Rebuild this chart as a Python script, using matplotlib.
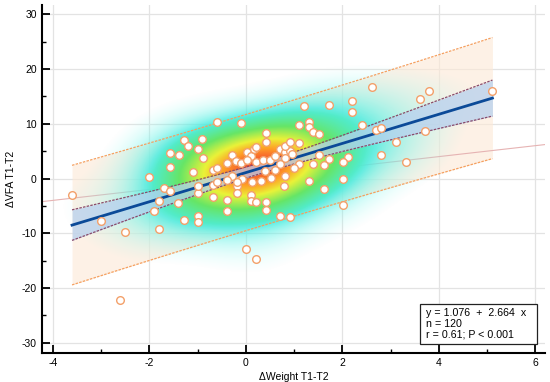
import numpy as np
import matplotlib
matplotlib.use("Agg")
import matplotlib.pyplot as plt
from matplotlib.colors import LinearSegmentedColormap
from matplotlib.patches import Rectangle

# ---------------- data ----------------
dweight = [-3.60, -3.00, -2.50, -2.60, -2.00, -1.90, -1.79, -1.79, -1.70, -1.58,
           -1.40, -1.29, -0.99, -0.99, -0.99, -0.99, -1.29, -1.19, -1.58, -1.39,
           -1.58, -1.10, -0.99, -0.90, -0.89, -0.68, -0.59, -0.68, -0.59, -0.68,
           -0.38, -0.38, -0.39, -0.59, -0.09, -0.29, -0.20, -0.09, 0.02, 0.11,
           0.02, 0.17, 0.21, 0.36, 0.50, 0.41, 0.41, 0.21, 0.61, 0.71,
           0.81, 0.92, 0.81, 0.96, 0.81, 0.71, 1.10, 1.00, 0.61, 0.40,
           0.52, 0.32, 0.12, -0.08, -0.29, -0.39, -0.19, 0.80, 1.31, 0.81,
           0.11, 0.11, 0.21, 0.41, 0.41, -0.19, 0.00, 0.21, 0.71, 0.91,
           0.92, 1.10, 1.21, 1.10, 1.30, 1.30, 1.40, 1.51, 1.72, 2.21,
           2.21, 2.41, 2.70, 2.81, 3.12, 2.61, 3.60, 3.80, 5.11, 3.71,
           1.52, 1.72, 2.11, 2.02, 2.80, 3.31, 1.40, 1.61, 2.02, 1.61,
           2.02, -0.19]
dvfa = [-3.0, -7.7, -9.7, -22.2, 0.3, -6.0, -4.2, -9.2, -1.7, -2.3,
        -4.5, -7.6, -6.8, -7.9, -2.6, -1.4, 7.1, 5.85, 4.6, 4.3,
        2.1, 1.1, 5.3, 7.2, 3.7, 1.6, 2.0, -1.15, -0.7, -3.3,
        2.8, -3.9, -5.85, 10.4, 10.1, 4.3, 3.2, 2.9, 4.9, 4.2,
        3.4, 5.3, 3.0, 3.4, 3.3, 8.3, 6.7, 5.67, 4.15, 5.4,
        4.9, 5.0, 6.0, 4.5, 3.8, 2.6, 2.6, 1.9, 1.6, 1.4,
        0.1, -0.4, -0.55, -0.1, 0.5, -0.2, -1.45, -1.45, -0.4, 0.4,
        -3.0, -4.1, -4.3, -4.3, -5.8, -2.7, -12.8, -14.7, -6.9, -7.1,
        6.7, 6.4, 13.3, 9.7, 10.4, 9.45, 8.5, 8.1, 13.4, 14.2,
        12.1, 9.8, 8.85, 9.15, 6.65, 16.8, 14.6, 16.0, 16.0, 8.7,
        4.3, 3.6, 4.0, 3.0, 4.3, 3.0, 2.7, 2.4, -0.06, -1.9,
        -4.8, -0.7]

intercept = 1.076
slope = 2.664
stats_lines = ["y = 1.076  +  2.664  x", "n = 120", "r = 0.61; P < 0.001"]

x_ticks = [-4, -2, 0, 2, 4, 6]
y_ticks = [-30, -20, -10, 0, 10, 20, 30]

# ---------------- figure ----------------
plt.rcParams['font.family'] = ['Liberation Sans', 'DejaVu Sans']
plt.rcParams['axes.unicode_minus'] = False

fig = plt.figure(figsize=(5.5, 3.82), dpi=100)
ax = fig.add_axes([0.077, 0.077, 0.914, 0.910])

xmin, xmax = -4.215, 6.2
ymin, ymax = -31.8, 31.7

x = np.array(dweight)
y = np.array(dvfa)
n = len(x)

# regression bands
xbar = x.mean()
sxx = np.sum((x - xbar) ** 2)
resid = y - (intercept + slope * x)
s = np.sqrt(np.sum(resid ** 2) / (n - 2))
t = 1.98
xs = np.linspace(x.min(), x.max(), 200)
yfit = intercept + slope * xs
ci = t * s * np.sqrt(1.0 / n + (xs - xbar) ** 2 / sxx)
pi = t * s * np.sqrt(1 + 1.0 / n + (xs - xbar) ** 2 / sxx)

# grid
ax.set_axisbelow(True)
ax.grid(True, which='major', color='#e3e3e3', linewidth=0.9)

# prediction band
ax.fill_between(xs, yfit - pi, yfit + pi, color='#fde9d6', alpha=0.6, linewidth=0, zorder=1)

# identity line
ax.plot([xmin, xmax], [xmin, xmax], color='#e6b3b3', linewidth=0.8, zorder=1.5)

# density heat map
gx = np.linspace(xmin, xmax, 300)
gy = np.linspace(ymin, ymax, 300)
GX, GY = np.meshgrid(gx, gy)
bx, by = 0.85, 4.6
D = np.zeros_like(GX)
for xi, yi in zip(x, y):
    D += np.exp(-0.5 * (((GX - xi) / bx) ** 2 + ((GY - yi) / by) ** 2))
D /= D.max()
cmap = LinearSegmentedColormap.from_list('heat', [
    (0.00, (0.70, 1.00, 0.97)),
    (0.30, (0.30, 0.93, 0.88)),
    (0.55, (0.40, 0.90, 0.40)),
    (0.75, (0.92, 0.95, 0.22)),
    (0.89, (1.00, 0.62, 0.15)),
    (1.00, (0.96, 0.32, 0.18)),
])
rgba = cmap(D)
rgba[..., 3] = np.clip((D - 0.05) / 0.30, 0, 1) ** 0.9
ax.imshow(rgba, extent=[xmin, xmax, ymin, ymax], origin='lower', aspect='auto',
          interpolation='bilinear', zorder=2)

# confidence band
ax.fill_between(xs, yfit - ci, yfit + ci, color='#b7d0ee', alpha=0.75, linewidth=0, zorder=3)
ax.plot(xs, yfit + ci, color='#8a4a6a', linewidth=0.9, linestyle=(0, (2, 1)), zorder=3.5)
ax.plot(xs, yfit - ci, color='#8a4a6a', linewidth=0.9, linestyle=(0, (2, 1)), zorder=3.5)
ax.plot(xs, yfit + pi, color='#f5a060', linewidth=0.9, linestyle=(0, (2, 1)), zorder=3.5)
ax.plot(xs, yfit - pi, color='#f5a060', linewidth=0.9, linestyle=(0, (2, 1)), zorder=3.5)

# regression line
ax.plot(xs, yfit, color='#0b4a98', linewidth=2.0, zorder=4)

# points
ax.plot(x, y, linestyle='none', marker='o', markersize=5.5, markerfacecolor='white',
        markeredgecolor='#f3a06a', markeredgewidth=1.0, zorder=5)

ax.set_xlim(xmin, xmax)
ax.set_ylim(ymin, ymax)
ax.set_xticks(x_ticks)
ax.set_yticks(y_ticks)
ax.set_xticks(np.arange(-3, 6, 2), minor=True)
ax.set_yticks(np.arange(-25, 30, 10), minor=True)
ax.tick_params(which='major', direction='in', length=6, width=1.3, labelsize=7.5, pad=4)
ax.tick_params(which='minor', direction='in', length=3, width=1.0)
for sp in ['top', 'right']:
    ax.spines[sp].set_visible(False)
for sp in ['left', 'bottom']:
    ax.spines[sp].set_linewidth(1.5)

ax.set_xlabel('ΔWeight T1-T2', fontsize=7.5, labelpad=3)
ax.set_ylabel('ΔVFA T1-T2', fontsize=7.5, labelpad=4)

# statistics box
ax.add_patch(Rectangle((0.751, 0.025), 0.233, 0.115, transform=ax.transAxes,
                       facecolor='white', edgecolor='#222222', linewidth=0.9, zorder=6))
ax.text(0.763, 0.083, "\n".join(stats_lines), transform=ax.transAxes, fontsize=7.7,
        ha='left', va='center', linespacing=1.15, zorder=7)

fig.savefig('out.png', dpi=100)
